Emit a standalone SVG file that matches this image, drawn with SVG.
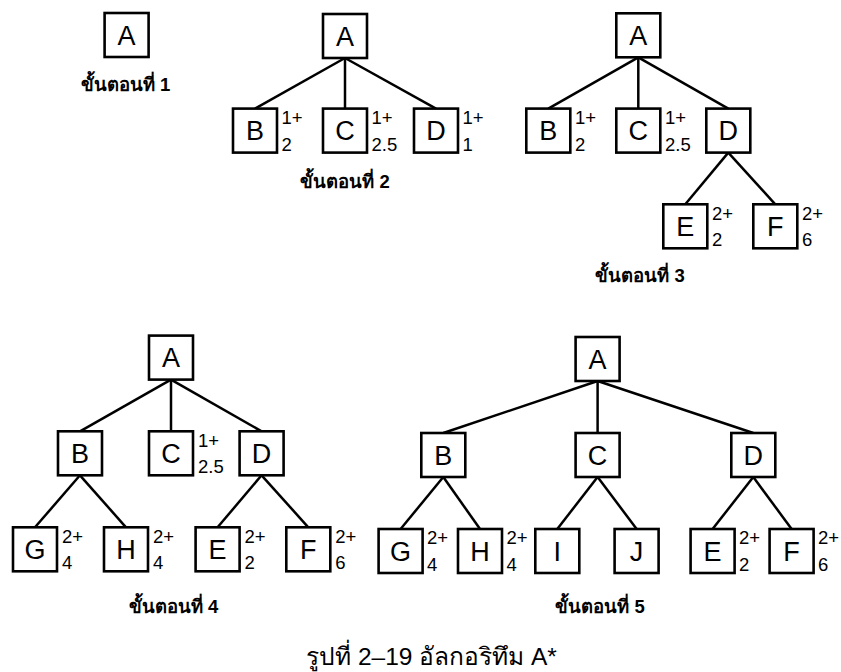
<svg xmlns="http://www.w3.org/2000/svg" width="841" height="672" viewBox="0 0 841 672">
<style>
.n rect{fill:#fff;stroke:#000;stroke-width:2.6}
.n text{font-family:"Liberation Sans",Arial,sans-serif;font-size:27px;text-anchor:middle;fill:#000}
.e line{stroke:#000;stroke-width:2.5}
.v{font-family:"Liberation Sans",Arial,sans-serif;font-size:18.5px;fill:#000}
.s{font-family:"Liberation Sans","Noto Sans",Tahoma,sans-serif;font-size:18.5px;font-weight:bold;text-anchor:middle;fill:#000}
.cap{font-family:"Liberation Sans","Noto Sans",Tahoma,sans-serif;font-size:24.5px;text-anchor:middle;fill:#000}
</style>
<rect width="841" height="672" fill="#fff"/>
<g id="connectors" class="e">
<line x1="345" y1="58" x2="255" y2="108.6"/>
<line x1="345" y1="58" x2="345" y2="108.6"/>
<line x1="345" y1="58" x2="436" y2="108.6"/>
<line x1="638.3" y1="57.3" x2="548.3" y2="108.6"/>
<line x1="638.3" y1="57.3" x2="638.3" y2="108.6"/>
<line x1="638.3" y1="57.3" x2="728.3" y2="108.6"/>
<line x1="728.3" y1="152.6" x2="685.3" y2="204.3"/>
<line x1="728.3" y1="152.6" x2="775.3" y2="204.3"/>
<line x1="171" y1="379.6" x2="80" y2="431.3"/>
<line x1="171" y1="379.6" x2="171" y2="431.3"/>
<line x1="171" y1="379.6" x2="261.6" y2="431.3"/>
<line x1="80" y1="475.3" x2="35" y2="527.3"/>
<line x1="80" y1="475.3" x2="126" y2="527.3"/>
<line x1="261.6" y1="475.3" x2="217.6" y2="527.3"/>
<line x1="261.6" y1="475.3" x2="308.3" y2="527.3"/>
<line x1="597.6" y1="381" x2="443.3" y2="433"/>
<line x1="597.6" y1="381" x2="597.6" y2="433"/>
<line x1="597.6" y1="381" x2="753.3" y2="433"/>
<line x1="443.3" y1="477" x2="400.6" y2="529"/>
<line x1="443.3" y1="477" x2="480" y2="529"/>
<line x1="597.6" y1="477" x2="557.3" y2="529"/>
<line x1="597.6" y1="477" x2="636.6" y2="529"/>
<line x1="753.3" y1="477" x2="712.6" y2="529"/>
<line x1="753.3" y1="477" x2="791.6" y2="529"/>
</g>

<g id="s1-A" class="n"><rect x="104.6" y="13" width="44" height="44"/><text x="126.6" y="44.7">A</text></g>
<text class="s" x="125.5" y="91">ขั้นตอนที่ 1</text>

<g id="s2-A" class="n"><rect x="323" y="14" width="44" height="44"/><text x="345" y="45.7">A</text></g>
<g id="s2-B" class="n"><rect x="233" y="108.6" width="44" height="44"/><text x="255" y="140.3">B</text></g>
<g id="s2-C" class="n"><rect x="323" y="108.6" width="44" height="44"/><text x="345" y="140.3">C</text></g>
<g id="s2-D" class="n"><rect x="414" y="108.6" width="44" height="44"/><text x="436" y="140.3">D</text></g>
<g id="s2-vals">
<text class="v" x="281.5" y="124">1+</text><text class="v" x="281.5" y="150.5">2</text>
<text class="v" x="371.5" y="124">1+</text><text class="v" x="371.5" y="150.5">2.5</text>
<text class="v" x="462.5" y="124">1+</text><text class="v" x="462.5" y="150.5">1</text>
</g>
<text class="s" x="345" y="188">ขั้นตอนที่ 2</text>

<g id="s3-A" class="n"><rect x="616.3" y="13.3" width="44" height="44"/><text x="638.3" y="45">A</text></g>
<g id="s3-B" class="n"><rect x="526.3" y="108.6" width="44" height="44"/><text x="548.3" y="140.3">B</text></g>
<g id="s3-C" class="n"><rect x="616.3" y="108.6" width="44" height="44"/><text x="638.3" y="140.3">C</text></g>
<g id="s3-D" class="n"><rect x="706.3" y="108.6" width="44" height="44"/><text x="728.3" y="140.3">D</text></g>
<g id="s3-E" class="n"><rect x="663.3" y="204.3" width="44" height="44"/><text x="685.3" y="236">E</text></g>
<g id="s3-F" class="n"><rect x="753.3" y="204.3" width="44" height="44"/><text x="775.3" y="236">F</text></g>
<g id="s3-vals">
<text class="v" x="575" y="124">1+</text><text class="v" x="575" y="150.5">2</text>
<text class="v" x="665" y="124">1+</text><text class="v" x="665" y="150.5">2.5</text>
<text class="v" x="712" y="219.7">2+</text><text class="v" x="712" y="246.2">2</text>
<text class="v" x="802" y="219.7">2+</text><text class="v" x="802" y="246.2">6</text>
</g>
<text class="s" x="640" y="282">ขั้นตอนที่ 3</text>

<g id="s4-A" class="n"><rect x="149" y="335.6" width="44" height="44"/><text x="171" y="367.3">A</text></g>
<g id="s4-B" class="n"><rect x="58" y="431.3" width="44" height="44"/><text x="80" y="463">B</text></g>
<g id="s4-C" class="n"><rect x="149" y="431.3" width="44" height="44"/><text x="171" y="463">C</text></g>
<g id="s4-D" class="n"><rect x="239.6" y="431.3" width="44" height="44"/><text x="261.6" y="463">D</text></g>
<g id="s4-G" class="n"><rect x="13" y="527.3" width="44" height="44"/><text x="35" y="559">G</text></g>
<g id="s4-H" class="n"><rect x="104" y="527.3" width="44" height="44"/><text x="126" y="559">H</text></g>
<g id="s4-E" class="n"><rect x="195.6" y="527.3" width="44" height="44"/><text x="217.6" y="559">E</text></g>
<g id="s4-F" class="n"><rect x="286.3" y="527.3" width="44" height="44"/><text x="308.3" y="559">F</text></g>
<g id="s4-vals">
<text class="v" x="198" y="446.7">1+</text><text class="v" x="198" y="473.2">2.5</text>
<text class="v" x="62" y="542.7">2+</text><text class="v" x="62" y="569.2">4</text>
<text class="v" x="153" y="542.7">2+</text><text class="v" x="153" y="569.2">4</text>
<text class="v" x="244.5" y="542.7">2+</text><text class="v" x="244.5" y="569.2">2</text>
<text class="v" x="335.2" y="542.7">2+</text><text class="v" x="335.2" y="569.2">6</text>
</g>
<text class="s" x="173.5" y="613">ขั้นตอนที่ 4</text>

<g id="s5-A" class="n"><rect x="575.6" y="337" width="44" height="44"/><text x="597.6" y="368.7">A</text></g>
<g id="s5-B" class="n"><rect x="421.3" y="433" width="44" height="44"/><text x="443.3" y="464.7">B</text></g>
<g id="s5-C" class="n"><rect x="575.6" y="433" width="44" height="44"/><text x="597.6" y="464.7">C</text></g>
<g id="s5-D" class="n"><rect x="731.3" y="433" width="44" height="44"/><text x="753.3" y="464.7">D</text></g>
<g id="s5-G" class="n"><rect x="378.6" y="529" width="44" height="44"/><text x="400.6" y="560.7">G</text></g>
<g id="s5-H" class="n"><rect x="458" y="529" width="44" height="44"/><text x="480" y="560.7">H</text></g>
<g id="s5-I" class="n"><rect x="535.3" y="529" width="44" height="44"/><text x="557.3" y="560.7">I</text></g>
<g id="s5-J" class="n"><rect x="614.6" y="529" width="44" height="44"/><text x="636.6" y="560.7">J</text></g>
<g id="s5-E" class="n"><rect x="690.6" y="529" width="44" height="44"/><text x="712.6" y="560.7">E</text></g>
<g id="s5-F" class="n"><rect x="769.6" y="529" width="44" height="44"/><text x="791.6" y="560.7">F</text></g>
<g id="s5-vals">
<text class="v" x="427" y="544.4">2+</text><text class="v" x="427" y="570.9">4</text>
<text class="v" x="506.5" y="544.4">2+</text><text class="v" x="506.5" y="570.9">4</text>
<text class="v" x="739" y="544.4">2+</text><text class="v" x="739" y="570.9">2</text>
<text class="v" x="818" y="544.4">2+</text><text class="v" x="818" y="570.9">6</text>
</g>
<text class="s" x="600" y="613">ขั้นตอนที่ 5</text>

<text class="cap" x="431.5" y="665">รูปที่ 2–19 อัลกอริทึม A*</text>
</svg>
